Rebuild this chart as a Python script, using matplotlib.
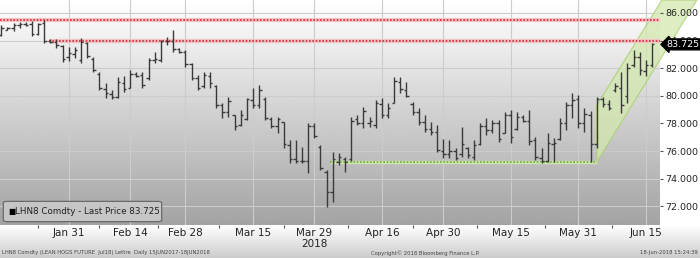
import numpy as np
import pandas as pd
import matplotlib
matplotlib.use("Agg")
import matplotlib.pyplot as plt
import matplotlib.transforms as mtransforms
from matplotlib.patches import Polygon, FancyBboxPatch

plt.rcParams['font.family'] = ['DejaVu Sans']

# trading days shown (CME holidays removed)
holidays = ['2018-01-15', '2018-02-19', '2018-03-30', '2018-05-28']
dates = pd.bdate_range('2018-01-16', '2018-06-18', freq='C', holidays=holidays)

# daily OHLC
opens = [84.4, 84.8, 84.9, 85.1, 85.2, 85.2, 84.5, 85.3, 84.0, 83.9,
         83.6, 82.8, 83.0, 82.6, 83.8, 82.7, 81.6, 80.5, 80.1, 79.9,
         80.9, 80.6, 81.6, 81.5, 81.3, 82.6, 82.6, 84.0, 84.0, 83.4,
         83.2, 82.3, 81.3, 80.7, 81.4, 80.7, 79.3, 78.8, 78.6, 77.9,
         78.3, 79.7, 79.3, 79.8, 78.3, 77.8, 78.1, 76.4, 75.4, 75.3,
         75.3, 77.8, 76.3, 74.5, 73.0, 75.2, 75.4, 75.4, 78.3, 78.0,
         78.0, 77.9, 79.4, 78.6, 79.5, 81.0, 80.4, 79.4, 78.8, 78.1,
         77.6, 77.4, 76.0, 75.8, 76.0, 75.8, 76.2, 75.6, 76.5, 77.8,
         77.5, 78.0, 77.3, 78.6, 77.6, 78.5, 78.2, 76.8, 75.5, 75.3,
         76.5, 76.9, 78.0, 79.3, 79.8, 78.0, 78.6, 76.5, 79.8, 79.4,
         80.4, 80.6, 80.0, 82.2, 82.8, 81.8, 82.2]
highs = [85.1, 85.0, 85.3, 85.35, 85.35, 85.4, 85.3, 85.47, 84.1, 84.1,
         83.7, 83.5, 83.5, 84.2, 83.9, 82.8, 81.7, 80.9, 80.4, 81.35,
         81.4, 81.9, 81.75, 81.7, 82.75, 83.2, 84.05, 84.25, 84.75, 83.45,
         83.3, 82.4, 81.5, 81.7, 81.7, 80.8, 79.5, 79.9, 78.6, 79.0,
         79.85, 80.6, 80.8, 79.9, 78.45, 78.45, 78.1, 76.8, 76.8, 76.3,
         78.0, 78.0, 76.45, 74.6, 75.9, 75.85, 75.6, 78.45, 78.6, 79.2,
         78.45, 79.7, 79.85, 79.5, 81.35, 81.35, 81.0, 79.55, 79.1, 78.6,
         78.1, 77.9, 76.9, 76.8, 76.2, 77.75, 76.3, 76.8, 78.0, 78.4,
         78.25, 78.25, 78.8, 78.95, 78.8, 78.6, 78.95, 77.0, 76.2, 77.3,
         76.95, 78.4, 79.55, 80.2, 80.05, 79.1, 78.9, 79.9, 79.9, 79.7,
         80.9, 81.7, 82.35, 83.3, 83.2, 82.6, 83.85]
lows = [84.3, 84.75, 84.7, 84.9, 85.05, 84.3, 84.4, 83.85, 83.8, 83.45,
        82.45, 82.5, 82.75, 82.4, 82.75, 81.7, 80.4, 79.85, 79.8, 79.85,
        80.3, 80.55, 81.35, 80.6, 81.15, 82.4, 82.45, 83.7, 83.15, 83.1,
        82.1, 81.15, 80.4, 80.6, 80.6, 79.1, 78.4, 78.45, 77.5, 77.8,
        78.25, 79.1, 79.1, 78.25, 77.65, 77.3, 76.2, 75.1, 75.1, 75.1,
        74.4, 76.95, 74.6, 71.95, 72.3, 75.0, 74.5, 75.3, 77.9, 77.7,
        77.75, 77.7, 78.4, 78.4, 79.5, 80.2, 79.9, 78.6, 77.9, 77.4,
        77.15, 75.95, 75.5, 75.5, 75.35, 75.6, 75.5, 75.35, 76.45, 77.15,
        77.3, 76.65, 77.3, 76.6, 77.5, 78.1, 76.45, 75.35, 75.15, 75.2,
        75.2, 76.8, 77.5, 78.4, 77.65, 77.4, 75.2, 76.2, 79.2, 78.95,
        80.3, 78.75, 79.5, 82.1, 81.5, 81.4, 82.1]
closes = [84.9, 84.9, 85.1, 85.2, 85.1, 84.5, 85.2, 84.0, 83.9, 83.7,
          82.7, 83.1, 83.3, 83.9, 82.9, 81.9, 80.6, 80.2, 79.9, 81.0,
          80.5, 81.6, 81.4, 80.8, 82.6, 82.7, 84.0, 84.0, 83.4, 83.2,
          82.3, 81.3, 80.6, 81.5, 80.9, 79.3, 78.8, 79.6, 77.8, 78.6,
          79.8, 79.3, 80.4, 78.4, 77.8, 78.3, 76.5, 75.4, 75.3, 75.3,
          77.8, 77.1, 74.8, 73.0, 75.4, 75.6, 75.2, 78.2, 78.0, 78.9,
          78.2, 79.5, 78.6, 79.1, 81.1, 80.5, 80.0, 78.8, 78.1, 77.6,
          77.4, 76.1, 75.8, 76.0, 75.5, 76.5, 75.7, 76.4, 77.8, 77.5,
          78.0, 76.9, 78.6, 77.0, 78.5, 78.2, 76.7, 75.6, 75.3, 76.6,
          76.6, 78.0, 79.3, 79.7, 78.0, 78.7, 76.5, 79.8, 79.4, 79.1,
          80.7, 79.3, 82.0, 82.8, 81.9, 82.2, 83.725]
last_price = 83.725

tick_dates = ['2018-01-31', '2018-02-14', '2018-02-28', '2018-03-15', '2018-03-29',
              '2018-04-16', '2018-04-30', '2018-05-15', '2018-05-31', '2018-06-15']
tick_labels = ['Jan 31', 'Feb 14', 'Feb 28', 'Mar 15', 'Mar 29',
               'Apr 16', 'Apr 30', 'May 15', 'May 31', 'Jun 15']
y_ticks = [72, 74, 76, 78, 80, 82, 84, 86]

# drawn levels
resist_top = 85.47
resist_low = 84.0
resist_low_from = '2018-01-26'
support = 75.2
support_from = '2018-04-04'
channel_from = '2018-06-05'
channel_width = 4.1
channel_slope = 0.72

x = np.arange(len(dates))
pos = {d.strftime('%Y-%m-%d'): i for i, d in enumerate(dates)}

fig = plt.figure(figsize=(7, 2.58), dpi=100)
fig.patch.set_facecolor('white')

# bottom band with footer
band = fig.add_axes([0, 0, 1, 33 / 258])
band.imshow(np.linspace(1.0, 0.80, 50).reshape(-1, 1), cmap='gray', vmin=0, vmax=1,
            aspect='auto', extent=[0, 1, 0, 1])
band.set_xlim(0, 1)
band.set_ylim(0, 1)
band.axis('off')

ax = fig.add_axes([0, 33 / 258, 660 / 700, 225 / 258])
xmin, xmax = -0.2, 107.3
ymin, ymax = 70.64, 86.94
ax.set_xlim(xmin, xmax)
ax.set_ylim(ymin, ymax)

# grey gradient background
ax.imshow(np.linspace(0.64, 1.0, 200).reshape(-1, 1), cmap='gray', vmin=0, vmax=1,
          aspect='auto', origin='lower', extent=[xmin, xmax, ymin, ymax], zorder=0)

for s in ax.spines.values():
    s.set_visible(False)

# grid
for yv in y_ticks:
    ax.axhline(yv, color='#cccccc', lw=0.8, zorder=0.5)
for d in tick_dates:
    ax.axvline(pos[d], color='#cccccc', lw=0.8, zorder=0.5)

# trend channel
c0 = pos[channel_from]
u_end = c0 + (ymax - (support + channel_width)) / channel_slope
l_end = c0 + (ymax - support) / channel_slope
poly = Polygon([(c0, support), (c0, support + channel_width), (u_end, ymax), (l_end, ymax)],
               closed=True, facecolor='#d3e8ae', edgecolor='#a9d070', lw=0.9,
               alpha=0.75, zorder=1, clip_on=False)
ax.add_patch(poly)

# levels
ax.hlines(resist_top, xmin, xmax, color='#f4c2c5', lw=3, zorder=1.2)
ax.hlines(resist_top, xmin, xmax, color='#d42a35', lw=1.2, linestyle=(0, (1, 1)), zorder=1.3)
ax.hlines(resist_low, pos[resist_low_from] - 0.3, xmax, color='#f4c2c5', lw=3, zorder=1.2)
ax.hlines(resist_low, pos[resist_low_from] - 0.3, xmax, color='#d42a35', lw=1.2,
          linestyle=(0, (1, 1)), zorder=1.3)
ax.hlines(support, pos[support_from] - 0.5, c0, color='#cfe3b0', lw=2.5, zorder=1.2)
ax.hlines(support, pos[support_from] - 0.5, c0, color='#6fae3a', lw=1.2,
          linestyle=(0, (1, 1)), zorder=1.3)

# OHLC bars
bar_col = '#3a3a3a'
ax.vlines(x, lows, highs, color=bar_col, lw=1.0, zorder=3)
ax.hlines(opens, x - 0.4, x, color=bar_col, lw=1.0, zorder=3)
ax.hlines(closes, x, x + 0.4, color=bar_col, lw=1.0, zorder=3)

# axes ticks
ax.yaxis.tick_right()
ax.set_yticks(y_ticks)
ax.set_yticklabels([f'{v:.3f}' for v in y_ticks])
ax.tick_params(axis='y', length=2.5, width=0.8, color='#555555', pad=1.2,
               labelsize=6.8, labelcolor='#222222')
ax.set_xticks([pos[d] for d in tick_dates])
ax.set_xticklabels(tick_labels)
mids = [(pos[a] + pos[b]) / 2 for a, b in zip(tick_dates[:-1], tick_dates[1:])]
mids = [2 * pos[tick_dates[0]] - mids[0]] + mids
ax.set_xticks(mids, minor=True)
ax.tick_params(axis='x', which='major', length=0, pad=2.5, labelsize=7.5, labelcolor='#222222')
ax.tick_params(axis='x', which='minor', length=2.5, width=0.8, color='#555555')

ax.text(pos['2018-03-29'], -0.085, '2018', transform=mtransforms.blended_transform_factory(
    ax.transData, ax.transAxes), ha='center', va='center', fontsize=7.5, color='#222222')

# last price tag
tr = mtransforms.blended_transform_factory(ax.transAxes, ax.transData)
ax.text(1.01, last_price, f'{last_price:.3f}', transform=tr, ha='left', va='center',
        fontsize=6.8, color='white', zorder=10, clip_on=False,
        bbox=dict(boxstyle='larrow,pad=0.1', fc='black', ec='black'))

# legend box
box = FancyBboxPatch((0.005, 0.015), 0.24, 0.09, boxstyle='round,pad=0,rounding_size=0.006',
                     transform=ax.transAxes, facecolor='#c6c6c6', edgecolor='#6a6a6a',
                     lw=0.9, zorder=5)
ax.add_patch(box)
ax.text(0.012, 0.06, '\u25a0', transform=ax.transAxes, fontsize=5.5, va='center',
        ha='left', color='black', zorder=6)
ax.text(0.022, 0.06, f'LHN8 Comdty - Last Price {last_price:.3f}', transform=ax.transAxes,
        fontsize=6.3, va='center', ha='left', color='#222222', zorder=6)

# footer
fig.text(0.003, 0.02, 'LHN8 Comdty (LEAN HOGS FUTURE  Jul18) Lettre  Daily 15JUN2017-18JUN2018',
         fontsize=3.8, color='#444444', va='center', ha='left')
fig.text(0.53, 0.02, 'Copyright\u00a9 2018 Bloomberg Finance L.P.', fontsize=3.8,
         color='#444444', va='center', ha='left')
fig.text(0.997, 0.02, '18-Jun-2018 15:24:39', fontsize=3.8, color='#444444',
         va='center', ha='right')

fig.savefig('out.png', dpi=100)
